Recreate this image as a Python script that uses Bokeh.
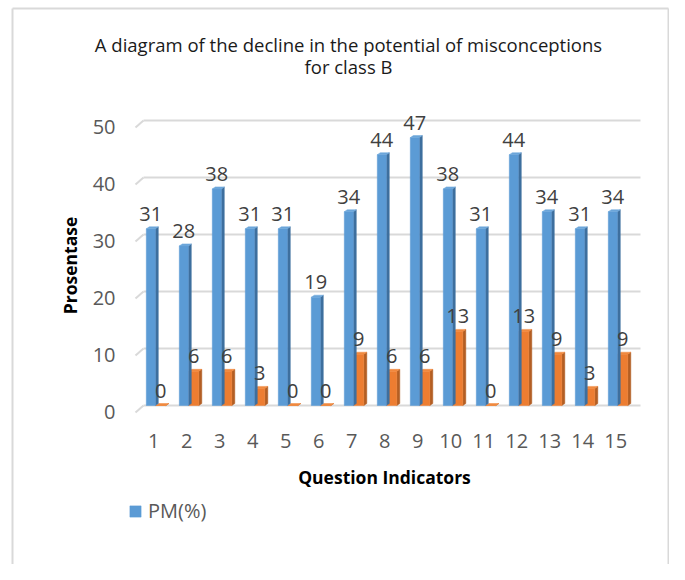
import math
from bokeh.plotting import figure
from bokeh.models import Range1d, Legend, LegendItem
from bokeh.core.properties import value
from bokeh.embed import file_html
from bokeh.resources import INLINE

# ---- data ----
categories = [1, 2, 3, 4, 5, 6, 7, 8, 9, 10, 11, 12, 13, 14, 15]
pm_values = [31, 28, 38, 31, 31, 19, 34, 44, 47, 38, 31, 44, 34, 31, 34]
second_values = [0, 6, 6, 3, 0, 0, 9, 6, 6, 13, 0, 13, 9, 3, 9]
y_ticks = [0, 10, 20, 30, 40, 50]
x_tick_labels = [str(c) for c in categories]
y_tick_labels = [str(t) for t in y_ticks]
title_lines = ["A diagram of the decline in the potential of misconceptions", "for class B"]
x_title = "Question Indicators"
y_title = "Prosentase"
series_label = "PM(%)"

# ---- layout (pixel geometry of the canvas) ----
FONT = "Open Sans"
FW, FH = 669, 564
PX_X = 33.0        # pixels per category
PX_Y = 5.7         # pixels per percent
TICK1_PX = 153.3   # x pixel of category 1
ZERO_PY = 405.0    # y pixel of value 0
X0 = 1 - TICK1_PX / PX_X
X1 = X0 + FW / PX_X
Y1 = ZERO_PY / PX_Y
Y0 = -(FH - ZERO_PY) / PX_Y


def xd(px):
    return X0 + px / PX_X


def yd(py):
    return (ZERO_PY - py) / PX_Y


GRID = "#d9d9d9"

p = figure(width=FW, height=FH, x_range=Range1d(X0, X1), y_range=Range1d(Y0, Y1),
           output_backend="svg", toolbar_location=None, title=None,
           x_axis_location=None, y_axis_location=None, min_border=0)
p.outline_line_color = None
p.background_fill_color = "white"
p.border_fill_color = "white"
p.xgrid.visible = False
p.ygrid.visible = False

# outer chart border
p.segment(x0=[xd(12), xd(12), xd(668)], y0=[yd(8), yd(8), yd(8)],
          x1=[xd(668), xd(12), xd(668)], y1=[yd(8), yd(FH + 5), yd(FH + 5)],
          line_color=GRID, line_width=2)

# 3D-style gridlines (back wall + small floor slant)
n = len(y_ticks)
p.segment(x0=[xd(143)] * n, y0=y_ticks, x1=[xd(640)] * n, y1=y_ticks,
          line_color=GRID, line_width=2)
p.segment(x0=[xd(135)] * n, y0=[t - 7 / PX_Y for t in y_ticks],
          x1=[xd(143)] * n, y1=y_ticks, line_color=GRID, line_width=2)

depth_x = 3 / PX_X
depth_y = 2 / PX_Y


def bar3d(lefts, rights, vals, front, side, top):
    side_xs = [[r, r + depth_x, r + depth_x, r] for r in rights]
    side_ys = [[0, depth_y, v + depth_y, v] for v in vals]
    top_xs = [[l, r, r + depth_x, l + depth_x] for l, r in zip(lefts, rights)]
    top_ys = [[v, v, v + depth_y, v + depth_y] for v in vals]
    p.patches(side_xs, side_ys, fill_color=side, line_color=side, line_width=0.5)
    fr = p.quad(left=lefts, right=rights, bottom=[0] * len(vals), top=vals,
                fill_color=front, line_color=front, line_width=0.5)
    p.patches(top_xs, top_ys, fill_color=top, line_color=top, line_width=0.5)
    return fr


# orange series (behind)
o_left = [c + 2 / PX_X for c in categories]
o_right = [c + 12 / PX_X for c in categories]
bar3d(o_left, o_right, second_values, "#ED7D31", "#B35E24", "#F0893F")

# blue series
b_left = [c - 7.5 / PX_X for c in categories]
b_right = [c + 1.5 / PX_X for c in categories]
blue = bar3d(b_left, b_right, pm_values, "#5B9BD5", "#3E6F9E", "#6CA6DA")

# data labels
lab_off = 15 / PX_Y
p.text(x=[(l + r) / 2 for l, r in zip(b_left, b_right)], y=[v + lab_off for v in pm_values],
       text=[str(v) for v in pm_values], text_align="center", text_baseline="alphabetic",
       text_font=value(FONT), text_font_size="20px", text_color="#404040")
p.text(x=[(l + r) / 2 for l, r in zip(o_left, o_right)], y=[v + lab_off for v in second_values],
       text=[str(v) for v in second_values], text_align="center", text_baseline="alphabetic",
       text_font=value(FONT), text_font_size="20px", text_color="#404040")

# tick labels
p.text(x=[xd(115)] * n, y=[t - 6 / PX_Y for t in y_ticks], text=y_tick_labels,
       text_align="right", text_baseline="middle",
       text_font=value(FONT), text_font_size="20px", text_color="#595959")
p.text(x=categories, y=[yd(440)] * len(categories), text=x_tick_labels,
       text_align="center", text_baseline="middle",
       text_font=value(FONT), text_font_size="20px", text_color="#595959")

# axis titles
p.text(x=[xd(384)], y=[yd(476)], text=[x_title], text_align="center", text_baseline="middle",
       text_font=value(FONT), text_font_size="17.5px", text_font_style="bold", text_color="#000000")
p.text(x=[xd(69)], y=[yd(265)], text=[y_title], angle=math.pi / 2,
       text_align="center", text_baseline="middle",
       text_font=value(FONT), text_font_size="17.5px", text_font_style="bold", text_color="#000000")

# chart title
p.text(x=[xd(348)] * 2, y=[yd(44), yd(66)], text=title_lines, text_align="center",
       text_baseline="middle", text_font=value(FONT), text_font_size="18.5px",
       text_color="#1a1a1a")

# legend
legend = Legend(items=[LegendItem(label=series_label, renderers=[blue])],
                location=(128, FH - 524), orientation="horizontal",
                glyph_width=14, glyph_height=14, label_standoff=6,
                padding=0, margin=0, spacing=0,
                border_line_color=None, background_fill_alpha=0,
                label_text_font=FONT, label_text_font_size="20px", label_text_color="#595959")
p.add_layout(legend)

open("out.html", "w").write(file_html(p, INLINE))
